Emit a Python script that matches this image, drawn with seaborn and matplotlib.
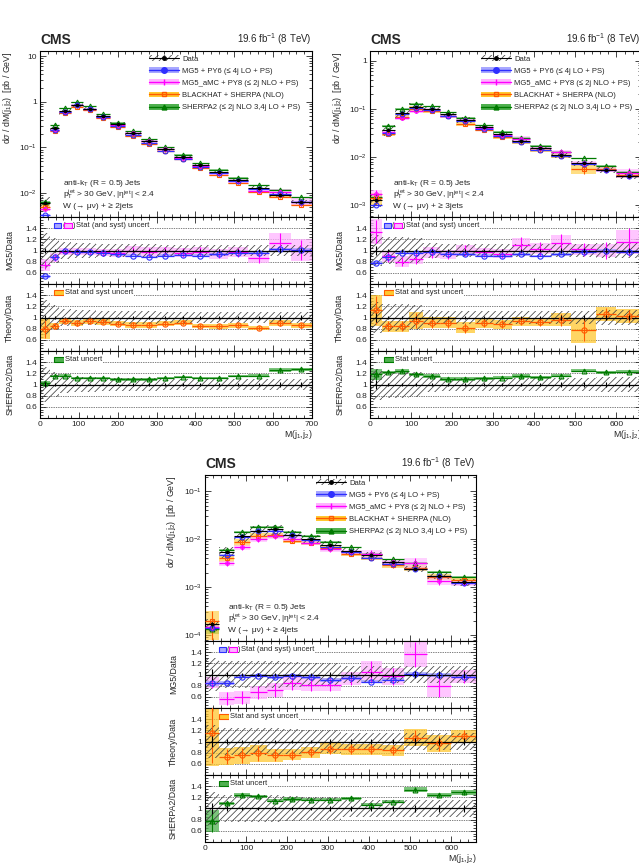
import numpy as np
import pandas as pd
import seaborn as sns
import matplotlib
matplotlib.use("Agg")
import matplotlib.pyplot as plt
from matplotlib.patches import Rectangle, Patch
from matplotlib.lines import Line2D
from matplotlib.ticker import LogLocator, FuncFormatter, MultipleLocator, NullFormatter, FixedLocator, FixedFormatter

# ============================================================
# values (ratios are model / data)
# ============================================================

# W + >= 2 jets
edges_2j = [0, 25, 50, 80, 110, 145, 180, 220, 260, 300, 345, 390, 435, 485, 535, 590, 645, 700]
xsec_2j = [0.0062, 0.27, 0.62, 0.87, 0.71, 0.49, 0.32, 0.21, 0.14, 0.092, 0.062, 0.041, 0.029, 0.019, 0.013, 0.0093, 0.0064]
unc_2j = [0.32, 0.22, 0.16, 0.14, 0.13, 0.12, 0.12, 0.11, 0.11, 0.10, 0.10, 0.10, 0.10, 0.10, 0.10, 0.10, 0.10]
stat_2j = [0.05, 0.02, 0.015, 0.015, 0.015, 0.015, 0.015, 0.02, 0.02, 0.02, 0.025, 0.025, 0.03, 0.03, 0.035, 0.04, 0.045]
mg5_2j = [0.54, 0.88, 0.99, 0.98, 0.98, 0.96, 0.93, 0.91, 0.89, 0.91, 0.92, 0.91, 0.93, 0.95, 0.96, 1.02, 1.01]
mg5_unc_2j = [0.03, 0.02, 0.02, 0.02, 0.02, 0.02, 0.02, 0.02, 0.02, 0.02, 0.02, 0.02, 0.02, 0.02, 0.03, 0.03, 0.03]
amc_2j = [0.74, 0.88, 0.98, 0.98, 0.98, 0.97, 0.96, 1.00, 0.98, 0.99, 0.96, 0.98, 0.94, 0.97, 0.86, 1.14, 1.01]
amc_stat_2j = [0.08, 0.06, 0.05, 0.05, 0.05, 0.06, 0.06, 0.06, 0.07, 0.07, 0.08, 0.08, 0.08, 0.08, 0.09, 0.17, 0.18]
amc_syst_2j = [0.10, 0.08, 0.06, 0.06, 0.06, 0.06, 0.07, 0.08, 0.08, 0.08, 0.08, 0.09, 0.09, 0.09, 0.08, 0.17, 0.19]
bh_2j = [0.80, 0.85, 0.94, 0.90, 0.93, 0.92, 0.89, 0.87, 0.87, 0.89, 0.91, 0.85, 0.84, 0.86, 0.81, 0.90, 0.86]
bh_unc_2j = [0.18, 0.06, 0.05, 0.05, 0.05, 0.05, 0.05, 0.05, 0.05, 0.05, 0.05, 0.04, 0.04, 0.04, 0.04, 0.05, 0.05]
sh_2j = [1.02, 1.15, 1.16, 1.12, 1.12, 1.11, 1.09, 1.09, 1.09, 1.11, 1.13, 1.11, 1.12, 1.15, 1.16, 1.26, 1.27]
sh_unc_2j = [0.04, 0.02, 0.02, 0.02, 0.02, 0.02, 0.02, 0.02, 0.02, 0.02, 0.02, 0.02, 0.02, 0.02, 0.02, 0.03, 0.03]

# W + >= 3 jets
edges_3j = [0, 30, 60, 95, 130, 170, 210, 255, 300, 345, 390, 440, 490, 550, 600, 660]
xsec_3j = [0.00125, 0.036, 0.081, 0.108, 0.099, 0.077, 0.059, 0.041, 0.0297, 0.0216, 0.0152, 0.011, 0.0074, 0.0054, 0.0040]
unc_3j = [0.28, 0.25, 0.25, 0.22, 0.14, 0.12, 0.12, 0.11, 0.11, 0.11, 0.11, 0.12, 0.12, 0.13, 0.13]
stat_3j = [0.08, 0.03, 0.02, 0.02, 0.02, 0.025, 0.025, 0.03, 0.03, 0.03, 0.035, 0.04, 0.045, 0.05, 0.05]
mg5_3j = [0.78, 0.89, 0.95, 0.96, 0.97, 0.94, 0.93, 0.91, 0.91, 0.93, 0.90, 0.93, 0.98, 0.99, 0.98]
mg5_unc_3j = [0.03, 0.02, 0.02, 0.02, 0.02, 0.02, 0.02, 0.02, 0.02, 0.02, 0.02, 0.03, 0.03, 0.03, 0.03]
amc_3j = [1.34, 0.90, 0.80, 0.85, 0.97, 0.93, 1.00, 0.97, 0.94, 1.10, 1.03, 1.13, 1.02, 1.00, 1.15]
amc_stat_3j = [0.20, 0.10, 0.08, 0.10, 0.10, 0.08, 0.10, 0.08, 0.08, 0.15, 0.12, 0.16, 0.12, 0.15, 0.25]
amc_syst_3j = [0.22, 0.10, 0.10, 0.10, 0.10, 0.08, 0.10, 0.08, 0.08, 0.12, 0.10, 0.14, 0.10, 0.12, 0.22]
bh_3j = [1.13, 0.84, 0.84, 0.94, 0.91, 0.91, 0.82, 0.90, 0.88, 0.93, 0.92, 0.96, 0.77, 1.06, 1.03]
bh_unc_3j = [0.28, 0.10, 0.10, 0.15, 0.10, 0.10, 0.10, 0.08, 0.08, 0.08, 0.08, 0.12, 0.22, 0.12, 0.12]
sh_3j = [1.18, 1.22, 1.24, 1.18, 1.15, 1.10, 1.10, 1.11, 1.12, 1.15, 1.13, 1.16, 1.25, 1.22, 1.23]
sh_unc_3j = [0.10, 0.03, 0.03, 0.03, 0.03, 0.03, 0.03, 0.03, 0.03, 0.03, 0.03, 0.03, 0.03, 0.03, 0.03]

# W + >= 4 jets
edges_4j = [0, 35, 70, 110, 150, 190, 235, 280, 330, 380, 430, 485, 540, 600, 660]
xsec_4j = [1.7e-4, 0.0055, 0.0115, 0.015, 0.016, 0.0123, 0.0103, 0.0076, 0.0058, 0.0047, 0.0034, 0.0024, 0.0017, 0.00127]
unc_4j = [0.30, 0.25, 0.25, 0.25, 0.25, 0.22, 0.20, 0.20, 0.15, 0.15, 0.15, 0.15, 0.15, 0.15]
stat_4j = [0.10, 0.04, 0.03, 0.03, 0.03, 0.035, 0.035, 0.04, 0.04, 0.045, 0.05, 0.055, 0.06, 0.07]
mg5_4j = [0.84, 0.85, 0.96, 0.98, 0.95, 0.98, 0.95, 0.90, 0.94, 0.87, 0.91, 1.01, 0.99, 0.96]
mg5_unc_4j = [0.04, 0.03, 0.03, 0.03, 0.03, 0.03, 0.03, 0.03, 0.03, 0.03, 0.03, 0.03, 0.03, 0.03]
amc_4j = [0.85, 0.57, 0.59, 0.68, 0.72, 0.84, 0.82, 0.82, 0.93, 1.05, 0.97, 1.36, 0.80, 0.96]
amc_stat_4j = [0.10, 0.12, 0.12, 0.12, 0.12, 0.12, 0.12, 0.12, 0.12, 0.20, 0.15, 0.22, 0.20, 0.12]
amc_syst_4j = [0.10, 0.12, 0.12, 0.12, 0.12, 0.12, 0.12, 0.12, 0.12, 0.20, 0.15, 0.22, 0.20, 0.12]
bh_4j = [1.16, 0.73, 0.75, 0.79, 0.75, 0.76, 0.81, 0.87, 0.86, 0.86, 0.84, 1.07, 0.97, 1.09]
bh_unc_4j = [0.60, 0.15, 0.15, 0.15, 0.12, 0.10, 0.10, 0.10, 0.10, 0.10, 0.10, 0.15, 0.15, 0.12]
sh_4j = [0.78, 1.09, 1.24, 1.22, 1.14, 1.17, 1.16, 1.16, 1.18, 1.07, 1.12, 1.34, 1.24, 1.29]
sh_unc_4j = [0.20, 0.03, 0.03, 0.03, 0.03, 0.03, 0.03, 0.03, 0.03, 0.03, 0.03, 0.04, 0.04, 0.04]

legend_labels = ["Data", "MG5 + PY6 (≤ 4j LO + PS)", "MG5_aMC + PY8 (≤ 2j NLO + PS)",
                 "BLACKHAT + SHERPA (NLO)", "SHERPA2 (≤ 2j NLO 3,4j LO + PS)"]

# ============================================================
sns.set_theme(style="ticks")
plt.rcParams.update({
    "font.family": ["Liberation Sans", "DejaVu Sans"],
    "mathtext.fontset": "custom",
    "mathtext.rm": "Liberation Sans",
    "mathtext.it": "Liberation Sans:italic",
    "mathtext.bf": "Liberation Sans:bold",
    "hatch.linewidth": 0.55,
    "axes.linewidth": 0.8,
    "axes.edgecolor": "black",
})

BLUE, BLUE_BAND = "#2f2fff", "#a8a8ff"
MAG, MAG_BAND = "#ff00ff", "#ffb3ff"
ORANGE, ORANGE_BAND = "#ff5a00", "#ffc830"
GREEN, GREEN_BAND = "#007a00", "#4fb04f"
HATCH_C = "#404040"

W, H = 639, 865


def px_rect(x0, x1, y0, y1):
    return [x0 / W, 1 - y1 / H, (x1 - x0) / W, (y1 - y0) / H]


def centers(edges):
    e = np.asarray(edges, float)
    return (e[:-1] + e[1:]) / 2


def band(ax, edges, lo, hi, color, alpha=0.75, z=1):
    for a, b, l, h in zip(edges[:-1], edges[1:], lo, hi):
        ax.fill_between([a, b], [l, l], [h, h], color=color, alpha=alpha, lw=0, zorder=z)


def hatch(ax, edges, lo, hi, z=2):
    for a, b, l, h in zip(edges[:-1], edges[1:], lo, hi):
        ax.add_patch(Rectangle((a, l), b - a, h - l, fill=False, hatch="/////",
                               edgecolor=HATCH_C, lw=0, zorder=z))


def model(ax, edges, vals, color, marker=None, ms=3.5, err=None, z=4):
    e = np.asarray(edges, float)
    ax.hlines(vals, e[:-1], e[1:], colors=color, lw=0.9, zorder=z)
    if err is not None:
        ax.errorbar(centers(e), vals, yerr=err, fmt="none", ecolor=color,
                    elinewidth=0.8, capsize=0, zorder=z)
    if marker:
        ax.plot(centers(e), vals, ls="none", marker=marker, ms=ms, mfc="none",
                mec=color, mew=0.8, zorder=z + 1)


def log_label(v, pos):
    e = int(round(np.log10(v)))
    if e == 0:
        return "1"
    if e == 1:
        return "10"
    return r"$10^{%d}$" % e


def style(ax, xmax):
    ax.set_xlim(0, xmax)
    ax.xaxis.set_major_locator(MultipleLocator(100))
    ax.xaxis.set_minor_locator(MultipleLocator(20))
    ax.tick_params(which="both", direction="in", top=True, right=True,
                   labelsize=6, width=0.6, pad=2)
    ax.tick_params(which="major", length=4.5)
    ax.tick_params(which="minor", length=2.3)
    ax.set_facecolor("white")


def ratio_axes(fig, rect, xmax, ylabel, ylab_x):
    ax = fig.add_axes(rect)
    style(ax, xmax)
    ax.set_ylim(0.4, 1.6)
    ax.yaxis.set_major_locator(FixedLocator([0.6, 0.8, 1.0, 1.2, 1.4]))
    ax.yaxis.set_major_formatter(FixedFormatter(["0.6", "0.8", "1", "1.2", "1.4"]))
    ax.yaxis.set_minor_locator(MultipleLocator(0.05))
    for yv in [0.6, 0.8, 1.2, 1.4]:
        ax.axhline(yv, color="black", lw=0.5, ls=(0, (1, 1.5)), zorder=0.5)
    ax.axhline(1.0, color="black", lw=0.9, zorder=5)
    ax.set_ylabel(ylabel, fontsize=6.3)
    ax.yaxis.set_label_coords(ylab_x, 0.5)
    ax.tick_params(labelbottom=False)
    return ax


def ratio_key(ax, items, text):
    tr = ax.get_yaxis_transform()
    x = 0.05
    for kind, val in items:
        if kind == "box":
            fc, ec, w = val
            ax.add_patch(Rectangle((x, 1.405), w, 0.085, transform=tr, facecolor=fc,
                                   edgecolor=ec, lw=0.8, zorder=8))
            x += w + 0.004
        else:
            ax.text(x, 1.447, val, transform=tr, fontsize=5.5, va="center", ha="left", zorder=8)
            x += 0.008
    ax.text(x + 0.002, 1.447, text, transform=tr, fontsize=5.5, va="center", ha="left",
            zorder=8, bbox=dict(facecolor="white", edgecolor="none", pad=0.6))


def draw_set(fig, x0, x1, ytop, xmax, ylim, njet, s, ylab_x, leg_x):
    e = s["edges"]
    c = centers(e)
    data = np.asarray(s["xsec"])
    unc = np.asarray(s["unc"])
    stat = np.asarray(s["stat"])
    mg5, mg5u = np.asarray(s["mg5"]), np.asarray(s["mg5_unc"])
    amc, amcs, amcy = np.asarray(s["amc"]), np.asarray(s["amc_stat"]), np.asarray(s["amc_syst"])
    bh, bhu = np.asarray(s["bh"]), np.asarray(s["bh_unc"])
    sh, shu = np.asarray(s["sh"]), np.asarray(s["sh_unc"])

    # ---------------- main distribution
    ax = fig.add_axes(px_rect(x0, x1, ytop, ytop + 166))
    ax.set_yscale("log")
    style(ax, xmax)
    ax.set_ylim(*ylim)
    ax.yaxis.set_major_locator(LogLocator(base=10, numticks=12))
    ax.yaxis.set_major_formatter(FuncFormatter(log_label))
    ax.yaxis.set_minor_locator(LogLocator(base=10, subs=np.arange(2, 10), numticks=30))
    ax.yaxis.set_minor_formatter(NullFormatter())
    ax.tick_params(labelbottom=False)

    for vals, u, bc in [(sh, shu, GREEN_BAND), (bh, bhu, ORANGE_BAND),
                        (amc, amcy, MAG_BAND), (mg5, mg5u, BLUE_BAND)]:
        m = data * vals
        band(ax, e, m * (1 - u), m * (1 + u), bc, alpha=0.6)
    hatch(ax, e, data * (1 - unc), data * (1 + unc))
    model(ax, e, data * sh, GREEN, "^", 3.5)
    model(ax, e, data * bh, ORANGE, "s", 3.2, err=data * bh * bhu)
    model(ax, e, data * amc, MAG, "o", 2.6, err=data * amc * amcs)
    model(ax, e, data * mg5, BLUE, "o", 3.5)
    ax.hlines(data, np.asarray(e[:-1]), np.asarray(e[1:]), colors="black", lw=0.8, zorder=7)
    ax.errorbar(c, data, yerr=data * stat, fmt="none", ecolor="black", elinewidth=0.8, zorder=7)
    df = pd.DataFrame({"m": c, "xs": data})
    sns.scatterplot(data=df, x="m", y="xs", ax=ax, color="black", s=7, linewidth=0,
                    legend=False, zorder=8)
    ax.set_xlabel("")
    ax.set_ylabel(r"d$\sigma$ / dM(j$_{1}$j$_{2}$)  [pb / GeV]", fontsize=6.3, loc="top")
    ax.yaxis.set_label_coords(ylab_x, 1.0)

    ax.text(0.0, 1.022, "CMS", transform=ax.transAxes, fontsize=10, fontweight="bold",
            ha="left", va="bottom")
    ax.text(1.0, 1.022, r"19.6 fb$^{-1}$ (8 TeV)", transform=ax.transAxes, fontsize=7,
            ha="right", va="bottom")
    ax.text(0.085, 0.2, r"anti-k$_{\mathrm{T}}$ (R = 0.5) Jets", transform=ax.transAxes,
            fontsize=6, va="center")
    ax.text(0.085, 0.133, r"p$_{\mathrm{T}}^{\mathrm{jet}}$ > 30 GeV, |η$^{\mathrm{jet}}$| < 2.4",
            transform=ax.transAxes, fontsize=6, va="center")
    ax.text(0.085, 0.062, "W (→ μν) + ≥ %djets" % njet, transform=ax.transAxes,
            fontsize=6, va="center")

    handles = [
        (Patch(facecolor="none", edgecolor=HATCH_C, hatch="/////", lw=0),
         Line2D([], [], color="black", marker="o", ms=2.5, lw=0.8)),
        (Patch(facecolor=BLUE_BAND, edgecolor="none"),
         Line2D([], [], color=BLUE, marker="o", ms=4, lw=1)),
        (Patch(facecolor=MAG_BAND, edgecolor="none"),
         Line2D([], [], color=MAG, marker="|", ms=4, mew=1, lw=1)),
        (Patch(facecolor=ORANGE_BAND, edgecolor="none"),
         Line2D([], [], color=ORANGE, marker="s", ms=3.5, mfc="none", lw=1)),
        (Patch(facecolor=GREEN_BAND, edgecolor="none"),
         Line2D([], [], color=GREEN, marker="^", ms=3.5, lw=1)),
    ]
    ax.legend(handles, legend_labels, loc="upper left", bbox_to_anchor=(leg_x, 0.975),
              frameon=False, fontsize=5.5, handlelength=3.9, handleheight=0.8,
              labelspacing=0.6, handletextpad=0.45, borderaxespad=0, borderpad=0)

    # ---------------- MG5 / Data
    y1 = ytop + 166
    r1 = ratio_axes(fig, px_rect(x0, x1, y1, y1 + 67), xmax, "MG5/Data", ylab_x)
    hatch(r1, e, 1 - unc, 1 + unc)
    band(r1, e, amc - amcy, amc + amcy, MAG_BAND, alpha=0.75, z=1.5)
    band(r1, e, mg5 - mg5u, mg5 + mg5u, BLUE_BAND, alpha=0.8, z=1.6)
    model(r1, e, amc, MAG, None, err=amcs)
    model(r1, e, mg5, BLUE, "o", 3.8)
    r1.errorbar(c, np.ones_like(c), yerr=stat, fmt="none", ecolor="black", elinewidth=0.8, zorder=6)
    ratio_key(r1, [("box", (BLUE_BAND, BLUE, 0.027)), ("txt", "("),
                   ("box", (MAG_BAND, MAG, 0.03)), ("txt", ")")], "Stat (and syst) uncert")

    # ---------------- Theory / Data
    y2 = y1 + 67
    r2 = ratio_axes(fig, px_rect(x0, x1, y2, y2 + 67), xmax, "Theory/Data", ylab_x)
    hatch(r2, e, 1 - unc, 1 + unc)
    band(r2, e, bh - bhu, bh + bhu, ORANGE_BAND, alpha=0.75, z=1.5)
    model(r2, e, bh, ORANGE, "o", 3.8, err=bhu * 0.9)
    r2.errorbar(c, np.ones_like(c), yerr=stat, fmt="none", ecolor="black", elinewidth=0.8, zorder=6)
    ratio_key(r2, [("box", (ORANGE_BAND, ORANGE, 0.037))], "Stat and syst uncert")

    # ---------------- SHERPA2 / Data
    y3 = y2 + 67
    r3 = ratio_axes(fig, px_rect(x0, x1, y3, y3 + 67), xmax, "SHERPA2/Data", ylab_x)
    hatch(r3, e, 1 - unc, 1 + unc)
    band(r3, e, sh - shu, sh + shu, GREEN_BAND, alpha=0.75, z=1.5)
    model(r3, e, sh, GREEN, "^", 3.5, err=shu)
    r3.errorbar(c, np.ones_like(c), yerr=stat, fmt="none", ecolor="black", elinewidth=0.8, zorder=6)
    ratio_key(r3, [("box", (GREEN_BAND, GREEN, 0.037))], "Stat uncert")
    r3.tick_params(labelbottom=True)
    r3.set_xlabel(r"M(j$_{1}$,j$_{2}$)", fontsize=6.3, loc="right")
    r3.xaxis.set_label_coords(1.0, -0.155)


def series(edges, xsec, unc, stat, mg5, mg5_unc, amc, amc_stat, amc_syst, bh, bh_unc, sh, sh_unc):
    return dict(edges=edges, xsec=xsec, unc=unc, stat=stat, mg5=mg5, mg5_unc=mg5_unc,
                amc=amc, amc_stat=amc_stat, amc_syst=amc_syst, bh=bh, bh_unc=bh_unc,
                sh=sh, sh_unc=sh_unc)


fig = plt.figure(figsize=(W / 100, H / 100), dpi=100)
fig.patch.set_facecolor("white")

draw_set(fig, 40, 312, 51, 700, (3e-3, 13), 2,
         series(edges_2j, xsec_2j, unc_2j, stat_2j, mg5_2j, mg5_unc_2j, amc_2j, amc_stat_2j,
                amc_syst_2j, bh_2j, bh_unc_2j, sh_2j, sh_unc_2j), -0.095, 0.40)
draw_set(fig, 370, 641, 51, 660, (5.6e-4, 1.6), 3,
         series(edges_3j, xsec_3j, unc_3j, stat_3j, mg5_3j, mg5_unc_3j, amc_3j, amc_stat_3j,
                amc_syst_3j, bh_3j, bh_unc_3j, sh_3j, sh_unc_3j), -0.095, 0.41)
draw_set(fig, 205, 476, 475, 660, (7.5e-5, 0.22), 4,
         series(edges_4j, xsec_4j, unc_4j, stat_4j, mg5_4j, mg5_unc_4j, amc_4j, amc_stat_4j,
                amc_syst_4j, bh_4j, bh_unc_4j, sh_4j, sh_unc_4j), -0.1, 0.41)

fig.savefig("out.png", dpi=100)
